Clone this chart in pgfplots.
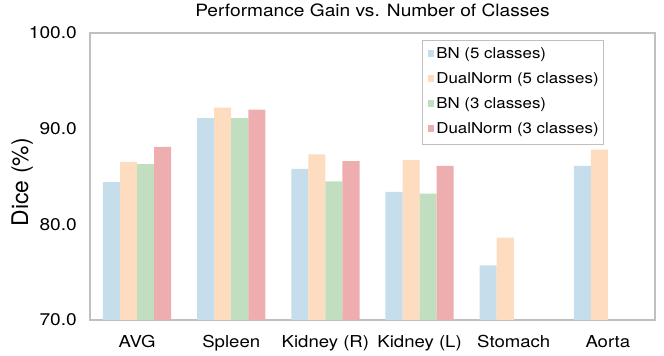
\documentclass[border=0pt]{standalone}
\usepackage{fontspec}
\setmainfont[FakeStretch=1.13]{TeX Gyre Heros}
\newfontfamily\plainfont{TeX Gyre Heros}
\usepackage{pgfplots}
\pgfplotsset{compat=1.18}

\definecolor{bnfive}{HTML}{C6DDEB}
\definecolor{dnfive}{HTML}{FDDCBF}
\definecolor{bnthree}{HTML}{C1DFC0}
\definecolor{dnthree}{HTML}{EEADAE}
\definecolor{frame}{HTML}{C0C0C0}

\begin{document}
\begin{tikzpicture}
\begin{axis}[
    ybar=0pt,
    bar width=0.181,
    scale only axis,
    width=565bp,
    height=287bp,
    xmin=-0.5, xmax=5.5,
    ymin=70, ymax=100,
    xtick={0,1,2,3,4,5},
    xticklabels={AVG, Spleen, Kidney (R), Kidney (L), Stomach, Aorta},
    ytick={70,80,90,100},
    /pgf/number format/fixed,
    /pgf/number format/fixed zerofill,
    /pgf/number format/precision=1,
    /pgf/number format/assume math mode=true,
    major tick length=0pt,
    axis line style={frame, line width=1.5bp},
    title={Performance Gain vs. Number of Classes},
    title style={font=\fontsize{17}{20}\selectfont, at={(0.5,1)}, anchor=base, yshift=11bp},
    ylabel={Dice (\%)},
    ylabel style={font=\plainfont\fontsize{23}{26}\selectfont, at={(axis description cs:-0.1097,0.48)}, anchor=base},
    yticklabel style={font=\fontsize{17}{20}\selectfont, anchor=east, inner xsep=0pt, xshift=-13bp},
    xticklabel style={font=\fontsize{16.5}{19}\selectfont, anchor=base, inner sep=0pt, yshift=-27bp},
    legend style={
        at={(0.91,0.976)}, anchor=north east,
        draw=frame, line width=1bp,
        font=\fontsize{15}{17}\selectfont,
        nodes={inner xsep=0pt, inner ysep=0pt, text height=10.5bp, text depth=3bp},
        row sep=11.5bp, column sep=2bp,
        inner xsep=5bp, inner ysep=8bp,
        legend cell align=left,
    },
    legend image code/.code={\fill[#1] (0bp,-1.8bp) rectangle (6.5bp,4.8bp);},
    every axis plot/.append style={draw=none},
]
\addplot[fill=bnfive] coordinates {(0,84.4) (1,91.1) (2,85.8) (3,83.4) (4,75.7) (5,86.1)};
\addplot[fill=dnfive] coordinates {(0,86.5) (1,92.2) (2,87.3) (3,86.7) (4,78.6) (5,87.8)};
\addplot[fill=bnthree] coordinates {(0,86.3) (1,91.1) (2,84.5) (3,83.2)};
\addplot[fill=dnthree] coordinates {(0,88.1) (1,92.0) (2,86.6) (3,86.1)};
\legend{BN (5 classes), DualNorm (5 classes), BN (3 classes), DualNorm (3 classes)}
\end{axis}
\pgfresetboundingbox
\path ([shift={(-90bp,-36bp)}]current axis.south west) rectangle ([shift={(9bp,33bp)}]current axis.north east);
\end{tikzpicture}
\end{document}
